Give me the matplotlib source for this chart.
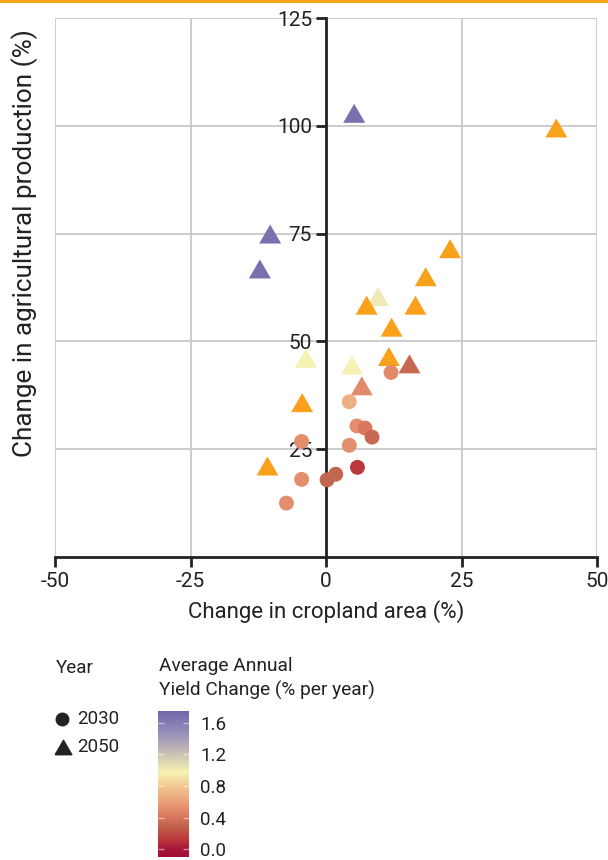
import matplotlib
matplotlib.use("Agg")
import matplotlib.pyplot as plt
import numpy as np
from matplotlib.colors import LinearSegmentedColormap, Normalize
from matplotlib.lines import Line2D

plt.rcParams['font.family'] = ['Roboto', 'DejaVu Sans']
plt.rcParams['axes.unicode_minus'] = False

# ---- data ----
# 2030 (circles)
x_2030 = [12.0, 4.3, 5.7, 7.2, 8.5, -4.5, 4.3, 5.8, 1.8, 0.2, -4.5, -7.3]
y_2030 = [42.8, 36.0, 30.4, 29.9, 27.8, 26.8, 25.9, 20.8, 19.2, 17.9, 18.0, 12.5]
yield_2030 = [0.50, 0.68, 0.52, 0.42, 0.32, 0.52, 0.52, 0.12, 0.30, 0.30, 0.52, 0.52]

# 2050 (triangles); NaN = no yield value (drawn in orange)
x_2050 = [5.2, 42.5, -10.3, -12.2, 22.9, 18.4, 9.6, 7.5, 16.5, 12.1, 11.6, 15.4,
          -3.7, 4.8, 6.6, -4.4, -10.8]
y_2050 = [102.9, 99.5, 74.9, 66.8, 71.5, 65.0, 60.4, 58.4, 58.4, 53.3, 46.5, 44.8,
          46.1, 44.5, 39.7, 35.8, 21.1]
yield_2050 = [1.68, np.nan, 1.68, 1.68, np.nan, np.nan, 1.02, np.nan, np.nan, np.nan,
              np.nan, 0.32, 0.97, 0.97, 0.50, np.nan, np.nan]

x_ticks = [-50, -25, 0, 25, 50]
y_ticks = [25, 50, 75, 100, 125]
cbar_ticks = [0.0, 0.4, 0.8, 1.2, 1.6]

# ---- colormap ----
vmin, vmax = -0.1, 1.75
anchors = [(-0.1, '#a30f35'), (0.0, '#a8163b'), (0.12, '#bb3a3c'), (0.3, '#c2664f'),
           (0.4, '#d9745c'), (0.6, '#eba179'), (0.8, '#f2c992'), (0.97, '#f8f2b4'),
           (1.2, '#ccc4b2'), (1.45, '#9c93bb'), (1.75, '#7166ab')]
cmap = LinearSegmentedColormap.from_list(
    'yc', [((v - vmin) / (vmax - vmin), c) for v, c in anchors])
cmap.set_bad('#f9a11b')
norm = Normalize(vmin=vmin, vmax=vmax)

W, H = 608, 860
fig = plt.figure(figsize=(W / 100, H / 100), dpi=100)

# top orange band
fig.add_artist(plt.Rectangle((0, 1 - 3 / H), 1, 3 / H, transform=fig.transFigure,
                             color='#f9a51b', lw=0))

ax = fig.add_axes([55 / W, 1 - 557 / H, (597 - 55) / W, (557 - 18) / H])
ax.set_xlim(-50, 50)
ax.set_ylim(0, 125)

grid_c = '#cccccc'
for xv in x_ticks:
    if xv != 0:
        ax.axvline(xv, color=grid_c, lw=1.4, zorder=0)
for yv in y_ticks:
    ax.axhline(yv, color=grid_c, lw=1.4, zorder=0)

for s in ['top', 'right']:
    ax.spines[s].set_visible(False)
ax.spines['left'].set_position(('data', 0))
ax.spines['left'].set_bounds(0, 125)
ax.spines['left'].set_linewidth(2)
ax.spines['bottom'].set_linewidth(2)
ax.spines['left'].set_color('#222222')
ax.spines['bottom'].set_color('#222222')
ax.set_xticks(x_ticks)
ax.set_yticks(y_ticks)
ax.tick_params(axis='both', length=7, width=2, color='#222222', labelsize=15,
               labelcolor='#222222')
ax.tick_params(axis='y', pad=3)
ax.tick_params(axis='x', pad=4)

tri = [(-1, -0.866), (1, -0.866), (0, 0.866), (-1, -0.866)]
c2050 = np.ma.masked_invalid(np.array(yield_2050, dtype=float))
ax.scatter(x_2050, y_2050, c=c2050, cmap=cmap, norm=norm, marker=tri, s=250,
           edgecolors='none', zorder=3, plotnonfinite=True)
ax.scatter(x_2030, y_2030, c=yield_2030, cmap=cmap, norm=norm, marker='o', s=115,
           edgecolors='none', zorder=4)

ax.set_xlabel('Change in cropland area (%)', fontsize=16, color='#222222', labelpad=6)
fig.text(25 / W, 1 - 243 / H, 'Change in agricultural production (%)', rotation=90,
         ha='center', va='center', fontsize=18.8, color='#222222')

# ---- legends ----
fs = 13.5
fig.text(56 / W, 1 - 668 / H, 'Year', fontsize=fs, color='#222222', va='center')
fig.add_artist(Line2D([62 / W], [1 - 719 / H], marker='o', markersize=9, color='#222222',
                      lw=0, transform=fig.transFigure))
fig.text(77 / W, 1 - 719 / H, '2030', fontsize=fs, color='#222222', va='center')
fig.add_artist(Line2D([63 / W], [1 - 747 / H], marker=tri, markersize=12, color='#222222',
                      lw=0, transform=fig.transFigure))
fig.text(77 / W, 1 - 747 / H, '2050', fontsize=fs, color='#222222', va='center')

fig.text(159 / W, 1 - 666 / H, 'Average Annual', fontsize=13.8, color='#222222', va='center')
fig.text(159 / W, 1 - 690 / H, 'Yield Change (% per year)', fontsize=13.8, color='#222222',
         va='center')

cax = fig.add_axes([158 / W, 1 - 857 / H, 31 / W, (857 - 711) / H])
grad = np.linspace(vmin, vmax, 256).reshape(-1, 1)
cax.imshow(grad, aspect='auto', cmap=cmap, norm=norm, origin='lower',
           extent=[0, 1, vmin, vmax])
cax.set_xlim(0, 1)
cax.set_ylim(vmin, vmax)
for s in cax.spines.values():
    s.set_visible(False)
cax.set_xticks([])
cax.yaxis.tick_right()
cax.set_yticks(cbar_ticks)
cax.set_yticklabels([f'{t:.1f}' for t in cbar_ticks])
cax.tick_params(axis='y', direction='in', length=4, width=1, color='#ffffff80',
                labelsize=fs, labelcolor='#222222', pad=8, left=True)

fig.savefig('out.png', dpi=100)
